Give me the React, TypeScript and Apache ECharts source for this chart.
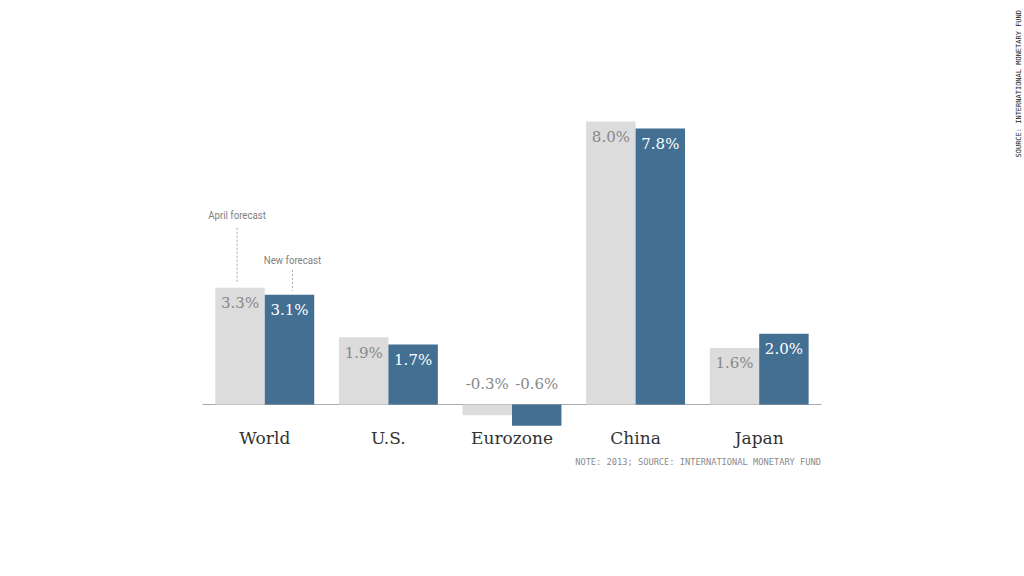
import React, { useEffect, useRef } from "react";
import * as echarts from "echarts";

const categories = ["World", "U.S.", "Eurozone", "China", "Japan"];
const aprilForecast = [3.3, 1.9, -0.3, 8.0, 1.6];
const newForecast = [3.1, 1.7, -0.6, 7.8, 2.0];
const seriesNames = ["April forecast", "New forecast"];
const noteText = "NOTE: 2013; SOURCE: INTERNATIONAL MONETARY FUND";
const sideText = "SOURCE: INTERNATIONAL MONETARY FUND";

const GREY = "#dcdcdc";
const BLUE = "#426f92";
const SERIF = "'DejaVu Serif', 'Liberation Serif', serif";

function fmt(v: number) {
  return v.toFixed(1) + "%";
}

function makeData(values: number[]) {
  return values.map((v) => {
    if (v < 0) {
      return {
        value: v,
        label: {
          position: ["50%", -13],
          align: "center",
          verticalAlign: "bottom",
          color: "#888888",
        },
      };
    }
    return { value: v };
  });
}

export default function App() {
  const ref = useRef<HTMLDivElement>(null);
  useEffect(() => {
    if (!ref.current) return;
    const chart = echarts.init(ref.current, null, { renderer: "svg" });
    const labelBase = {
      show: true,
      position: "insideTop",
      distance: 8,
      fontFamily: SERIF,
      fontSize: 15,
      formatter: (p: any) => fmt(p.value),
    };
    chart.setOption({
      animation: false,
      backgroundColor: "#ffffff",
      grid: { left: 203, right: 203, top: 86, height: 354 },
      xAxis: {
        type: "category",
        data: categories,
        axisLine: { lineStyle: { color: "#aaaaaa", width: 1 } },
        axisTick: { show: false },
        axisLabel: {
          color: "#333333",
          fontFamily: SERIF,
          fontSize: 17,
          margin: -11,
        },
      },
      yAxis: {
        type: "value",
        min: -1,
        max: 9,
        show: false,
        splitLine: { show: false },
      },
      series: [
        {
          name: seriesNames[0],
          type: "bar",
          barGap: "0%",
          barCategoryGap: "20%",
          itemStyle: { color: GREY },
          label: { ...labelBase, color: "#888888" },
          data: makeData(aprilForecast),
        },
        {
          name: seriesNames[1],
          type: "bar",
          barGap: "0%",
          barCategoryGap: "20%",
          itemStyle: { color: BLUE },
          label: { ...labelBase, color: "#ffffff" },
          data: makeData(newForecast),
        },
      ],
    });

    // Annotations positioned from the actual bar layout
    const model: any = (chart as any).getModel();
    const l0 = model.getSeriesByIndex(0).getData().getItemLayout(0);
    const l1 = model.getSeriesByIndex(1).getData().getItemLayout(0);
    const top0 = Math.min(l0.y, l0.y + l0.height);
    const top1 = Math.min(l1.y, l1.y + l1.height);
    const cx0 = l0.x + l0.width / 2 - 3;
    const cx1 = l1.x + l1.width / 2 + 3;
    const annFont = "'Liberation Sans Narrow', 'Roboto', sans-serif";
    const grid = model.getComponent("grid", 0).coordinateSystem.getRect();

    chart.setOption({
      graphic: [
        {
          type: "text",
          x: cx0,
          y: top0 - 72,
          scaleX: 0.88,
          style: {
            text: seriesNames[0],
            fill: "#808080",
            font: `11px ${annFont}`,
            align: "center",
            verticalAlign: "middle",
          },
        },
        {
          type: "line",
          shape: { x1: cx0, y1: top0 - 60, x2: cx0, y2: top0 - 5 },
          style: { stroke: "#aaaaaa", lineWidth: 1, lineDash: [2, 2] },
        },
        {
          type: "text",
          x: cx1,
          y: top1 - 35,
          scaleX: 0.88,
          style: {
            text: seriesNames[1],
            fill: "#808080",
            font: `11px ${annFont}`,
            align: "center",
            verticalAlign: "middle",
          },
        },
        {
          type: "line",
          shape: { x1: cx1, y1: top1 - 25, x2: cx1, y2: top1 - 4 },
          style: { stroke: "#aaaaaa", lineWidth: 1, lineDash: [2, 2] },
        },
        {
          type: "text",
          x: grid.x + grid.width,
          y: 462,
          style: {
            text: noteText,
            fill: "#8a8a8a",
            font: "8.7px 'DejaVu Sans Mono', monospace",
            align: "right",
            verticalAlign: "middle",
          },
        },
        {
          type: "text",
          x: 1019,
          y: 10,
          rotation: Math.PI / 2,
          style: {
            text: sideText,
            fill: "#222222",
            font: "7px 'DejaVu Sans Mono', monospace",
            align: "right",
            verticalAlign: "middle",
          },
        },
      ],
    });

    return () => chart.dispose();
  }, []);
  return (
    <div
      ref={ref}
      style={{ position: "fixed", left: 0, top: 0, width: 1024, height: 576 }}
    />
  );
}
